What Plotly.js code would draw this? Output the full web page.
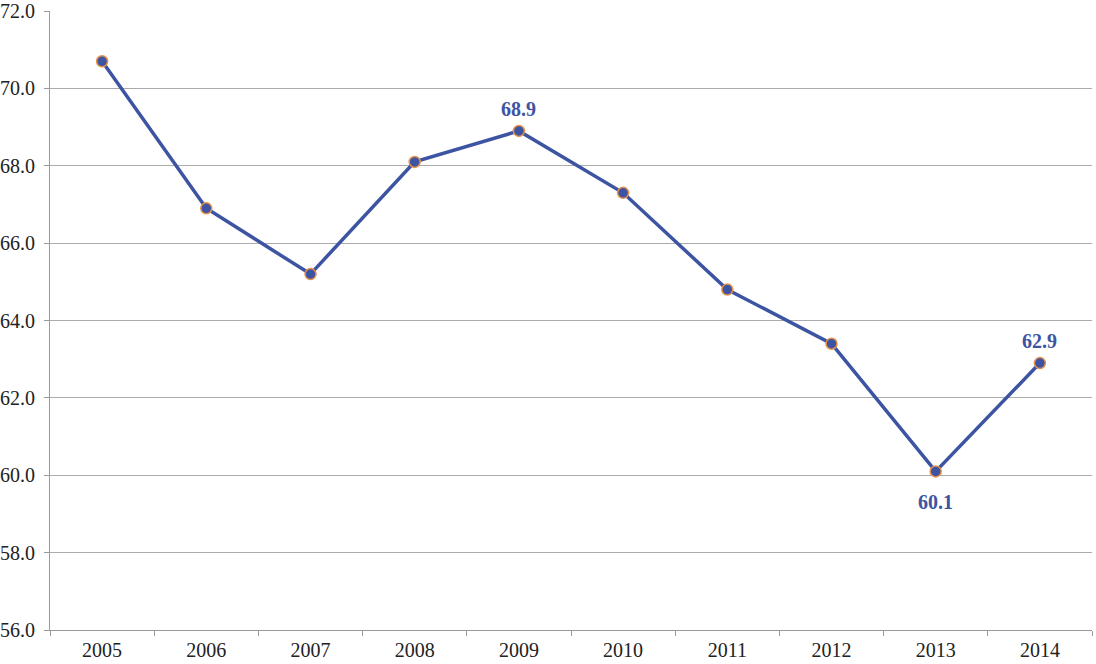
<!DOCTYPE html>
<html>
<head>
<meta charset="utf-8">
<script src="https://cdn.plot.ly/plotly-3.0.1.min.js"></script>
<style>html,body{margin:0;padding:0;background:#fff;}#chart{width:1096px;height:664px;}</style>
</head>
<body>
<div id="chart"></div>
<script>
const years = ['2005','2006','2007','2008','2009','2010','2011','2012','2013','2014'];
const values = [70.7, 66.9, 65.2, 68.1, 68.9, 67.3, 64.8, 63.4, 60.1, 62.9];
const labelIdx = [4, 8, 9];
const labelPos = ['above', 'below', 'above'];

const lineColor = '#3D54A2';
const fontFam = '"Liberation Serif", "Times New Roman", Times, serif';
const annotations = labelIdx.map((i, k) => ({
  x: i, y: values[i], xref: 'x', yref: 'y',
  text: '<b>' + values[i].toFixed(1) + '</b>', showarrow: false,
  yshift: labelPos[k] === 'above' ? 22 : -31,
  font: {family: fontFam, size: 20, color: lineColor}
}));

const trace = {
  x: years, y: values, type: 'scatter', mode: 'lines+markers',
  line: {color: lineColor, width: 3.5},
  marker: {color: lineColor, size: 11, line: {color: '#E8904A', width: 1.5}},
  hoverinfo: 'x+y'
};

const layout = {
  width: 1096, height: 664,
  margin: {l: 50, r: 4, t: 11, b: 34},
  paper_bgcolor: '#fff', plot_bgcolor: '#fff',
  showlegend: false,
  font: {family: fontFam, size: 20, color: '#222'},
  xaxis: {
    type: 'category', range: [-0.5, 9.5],
    showgrid: false, showline: true, linecolor: '#9a9a9a', linewidth: 1,
    ticks: 'outside', tickson: 'boundaries', ticklen: 5, tickcolor: '#9a9a9a',
    ticklabelstandoff: 2,
    tickfont: {family: fontFam, size: 20, color: '#222'}, zeroline: false
  },
  yaxis: {
    range: [56, 72], dtick: 2, tick0: 56, tickformat: '.1f',
    showgrid: true, gridcolor: '#ababab', gridwidth: 1,
    showline: true, linecolor: '#9a9a9a', linewidth: 1,
    ticks: 'outside', ticklen: 5, tickcolor: '#9a9a9a',
    ticklabelstandoff: 5,
    tickfont: {family: fontFam, size: 20, color: '#222'}, zeroline: false
  },
  annotations: annotations
};

Plotly.newPlot('chart', [trace], layout, {displayModeBar: false, staticPlot: true});
</script>
</body>
</html>
